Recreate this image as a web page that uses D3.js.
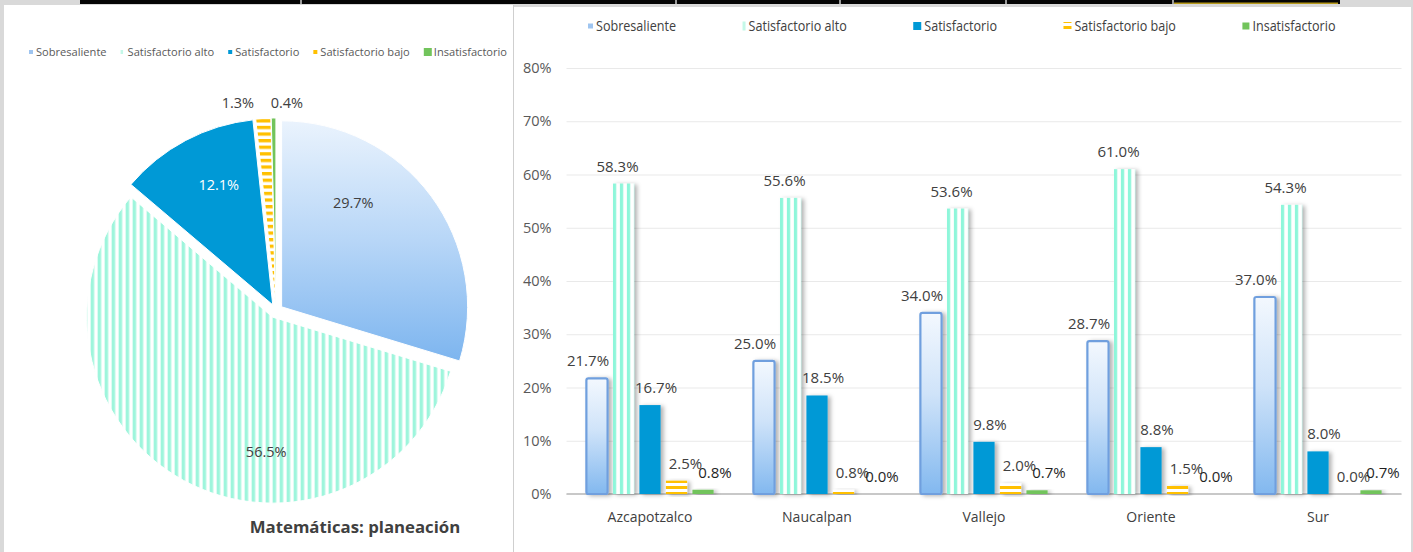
<!DOCTYPE html>
<meta charset="utf-8">
<title>Matemáticas: planeación</title>
<style>
body { margin: 0; background: #d9d9d9; }
svg { display: block; }
text { font-family: "Open Sans", sans-serif; }
</style>
<svg width="1413" height="552"></svg>
<script src="https://cdn.jsdelivr.net/npm/d3@7/dist/d3.min.js"></script>
<script>

// data
var series = ["Sobresaliente", "Satisfactorio alto", "Satisfactorio", "Satisfactorio bajo", "Insatisfactorio"];
var pieValues = [29.7, 56.5, 12.1, 1.3, 0.4];
var planteles = ["Azcapotzalco", "Naucalpan", "Vallejo", "Oriente", "Sur"];
var sobresaliente = [21.7, 25.0, 34.0, 28.7, 37.0];
var satAlto = [58.3, 55.6, 53.6, 61.0, 54.3];
var satisfactorio = [16.7, 18.5, 9.8, 8.8, 8.0];
var satBajo = [2.5, 0.8, 2.0, 1.5, 0.0];
var insatisfactorio = [0.8, 0.0, 0.7, 0.0, 0.7];
var yTicks = [0, 10, 20, 30, 40, 50, 60, 70, 80];
var pieTitle = "Matemáticas: planeación";

var seriesValues = [sobresaliente, satAlto, satisfactorio, satBajo, insatisfactorio];
var pct = function(v) { return d3.format(".1f")(v) + "%"; };

var svg = d3.select("svg");
var defs = svg.append("defs");

// ---------- fills ----------
function stripes(id, w, h, band, color, vertical) {
  var p = defs.append("pattern").attr("id", id)
      .attr("patternUnits", "userSpaceOnUse")
      .attr("width", w).attr("height", h);
  p.append("rect").attr("width", w).attr("height", h).attr("fill", "#fff");
  if (vertical) p.append("rect").attr("width", band).attr("height", h).attr("fill", color);
  else p.append("rect").attr("width", w).attr("height", band).attr("fill", color);
}
stripes("pieAlto", 7, 7, 3.5, "#9ef5dc", true);
stripes("pieBajo", 7, 6.6, 3.3, "#ffc000", false);
stripes("barAlto", 7, 7, 3.3, "#8ef6da", true);
stripes("barBajo", 7, 6, 3, "#ffc000", false);

function gradient(id, stops) {
  var g = defs.append("linearGradient").attr("id", id)
      .attr("x1", 0).attr("y1", 0).attr("x2", 0).attr("y2", 1);
  stops.forEach(function(s) {
    g.append("stop").attr("offset", s[0]).attr("stop-color", s[1]);
  });
}
gradient("pieSob", [[0, "#eaf3fd"], [0.5, "#b7d6f7"], [1, "#7db5ef"]]);
gradient("barSob", [[0, "#f3f8fe"], [0.45, "#cfe3f9"], [1, "#82b8ef"]]);

var shadow = defs.append("filter").attr("id", "shadow")
    .attr("x", "-40%").attr("y", "-20%").attr("width", "200%").attr("height", "140%");
shadow.append("feDropShadow").attr("dx", 3).attr("dy", 1)
    .attr("stdDeviation", 2).attr("flood-color", "#000").attr("flood-opacity", 0.3);

var pieFill = ["url(#pieSob)", "url(#pieAlto)", "#0099d6", "url(#pieBajo)", "#72c45c"];
var barFill = ["url(#barSob)", "url(#barAlto)", "#0099d6", "url(#barBajo)", "#72c45c"];

// ---------- page frame ----------
svg.append("rect").attr("x", 80).attr("y", 0).attr("width", 1260).attr("height", 4).attr("fill", "#050505");
svg.append("rect").attr("x", 1174).attr("y", 2.5).attr("width", 164).attr("height", 1.5).attr("fill", "#b79a1c");
[300, 675, 839, 1005, 1172].forEach(function(d) {
  svg.append("rect").attr("x", d).attr("y", 0).attr("width", 2).attr("height", 4).attr("fill", "#9a9a9a");
});
svg.append("rect").attr("x", 4).attr("y", 5).attr("width", 509).attr("height", 547).attr("fill", "#fff");
svg.append("rect").attr("x", 514).attr("y", 7).attr("width", 897).attr("height", 545).attr("fill", "#fff");
svg.append("line").attr("x1", 513.5).attr("x2", 513.5).attr("y1", 5).attr("y2", 552)
    .attr("stroke", "#cfcfcf").attr("stroke-width", 1);

// ---------- pie (left) ----------
var cx = 276, cy = 311, radius = 186, explode = 7;
var pie = d3.pie().sort(null)(pieValues);
var arc = d3.arc().innerRadius(0).outerRadius(radius);

var pieG = svg.append("g").attr("transform", "translate(" + cx + "," + cy + ")");
pieG.selectAll("path")
  .data(pie)
  .enter().append("path")
    .attr("d", arc)
    .attr("fill", function(d, i) { return pieFill[i]; })
    .attr("stroke", "#fff")
    .attr("stroke-width", 1)
    .attr("transform", function(d) {
      var m = (d.startAngle + d.endAngle) / 2;
      return "translate(" + (Math.sin(m) * explode) + "," + (-Math.cos(m) * explode) + ")";
    });

// label spots: [angle in degrees from 12 o'clock, distance from centre]
var pieLabelAt = [[35.5, 133], [184, 141], [335.5, 138], [349.6, 211], [3, 208]];
pieG.selectAll("text.lab")
  .data(pie)
  .enter().append("text")
    .attr("class", "lab")
    .attr("x", function(d, i) { return Math.sin(pieLabelAt[i][0] * Math.PI / 180) * pieLabelAt[i][1]; })
    .attr("y", function(d, i) { return -Math.cos(pieLabelAt[i][0] * Math.PI / 180) * pieLabelAt[i][1] + 5; })
    .attr("text-anchor", "middle")
    .attr("font-size", 14.5)
    .attr("fill", function(d, i) { return i == 2 ? "#fff" : "#404040"; })
    .text(function(d) { return pct(d.value); });

// pie legend
var pieLegend = svg.append("g").attr("transform", "translate(29,52)");
var lx = 0;
series.forEach(function(s, i) {
  var big = i == 4;
  var size = big ? 8 : 4;
  var mark = pieLegend.append("rect")
      .attr("x", lx).attr("y", -size / 2)
      .attr("width", big ? 8 : 4).attr("height", size)
      .attr("fill", ["#9fc5f0", "#c4f8e8", "#0099d6", "#ffc000", "#72c45c"][i]);
  if (i == 1) mark.attr("width", 2.5);
  var t = pieLegend.append("text")
      .attr("x", lx + (big ? 10 : 7)).attr("y", 4)
      .attr("font-size", 11.1)
      .attr("fill", "#595959")
      .text(s);
  lx = lx + (big ? 10 : 7) + t.node().getComputedTextLength() + 14;
});

svg.append("text")
    .attr("x", 355).attr("y", 533)
    .attr("text-anchor", "middle")
    .attr("font-size", 16.8)
    .attr("font-weight", "bold")
    .attr("fill", "#404040")
    .text(pieTitle);

// ---------- grouped bars (right) ----------
var left = 566.5, right = 1401.5, base = 494;
var x0 = d3.scaleBand().domain(planteles).range([left, right]);
var x1 = d3.scaleBand().domain(series).range([0, x0.bandwidth()])
    .paddingInner(0.2).paddingOuter(0.75);
var y = d3.scaleLinear().domain([0, 80]).range([base, 68]);

var yAxis = svg.append("g")
    .attr("transform", "translate(" + left + ",0)")
    .call(d3.axisLeft(y).tickValues(yTicks)
        .tickFormat(function(d) { return d + "%"; })
        .tickSize(-(right - left)).tickPadding(15));
yAxis.select(".domain").remove();
yAxis.selectAll("line").attr("stroke", "#e9e9e9");
yAxis.selectAll("text")
    .attr("font-family", "'Open Sans', sans-serif")
    .attr("font-size", 14.5)
    .attr("fill", "#595959");

svg.append("line")
    .attr("x1", left).attr("x2", right)
    .attr("y1", y(0)).attr("y2", y(0))
    .attr("stroke", "#c8c8c8").attr("stroke-width", 2);

var rows = planteles.map(function(p, i) {
  return series.map(function(s, j) {
    return { plantel: p, serie: s, j: j, value: seriesValues[j][i] };
  });
});

var labelShift = [-9, -6, 6, 9, 12];

var groups = svg.append("g").selectAll("g")
  .data(rows)
  .enter().append("g");

var bars = groups.selectAll("g")
  .data(function(d) { return d; })
  .enter().append("g")
    .attr("transform", function(d) { return "translate(" + (x0(d.plantel) + x1(d.serie)) + ",0)"; });

bars.filter(function(d) { return d.value > 0; })
  .append("rect")
    .attr("x", 0)
    .attr("y", function(d) { return y(d.value); })
    .attr("width", x1.bandwidth())
    .attr("height", function(d) { return base - y(d.value); })
    .attr("fill", function(d) { return barFill[d.j]; })
    .attr("stroke", function(d) { return d.j == 0 ? "#6f9fde" : "none"; })
    .attr("stroke-width", 2.2)
    .attr("rx", function(d) { return d.j == 0 ? 2 : 0; })
    .attr("filter", "url(#shadow)");

bars.append("text")
    .attr("x", function(d) { return x1.bandwidth() / 2 + labelShift[d.j]; })
    .attr("y", function(d) { return y(d.value) - 12; })
    .attr("text-anchor", "middle")
    .attr("font-size", 15)
    .attr("fill", function(d) { return d.j == 4 ? "#1f1f1f" : "#404040"; })
    .text(function(d) { return pct(d.value); });

svg.append("g").selectAll("text")
  .data(planteles)
  .enter().append("text")
    .attr("x", function(d) { return x0(d) + x0.bandwidth() / 2; })
    .attr("y", 522)
    .attr("text-anchor", "middle")
    .attr("font-size", 14)
    .attr("fill", "#404040")
    .text(function(d) { return d; });

// bar legend (text squeezed a little, the original font is a narrow one)
var barLegend = svg.append("g").attr("transform", "translate(588,26)");
var bx = 0, squeeze = 0.9;
series.forEach(function(s, i) {
  var w = [5, 3, 8, 8, 7][i], h = [5, 9, 8, 8, 7][i];
  barLegend.append("rect")
      .attr("x", bx).attr("y", -h / 2)
      .attr("width", w).attr("height", h)
      .attr("fill", ["#9fc5f0", "#c4f8e8", "#0099d6", "url(#barBajo)", "#72c45c"][i]);
  var t = barLegend.append("text")
      .attr("transform", "translate(" + (bx + w + 3) + ",5) scale(" + squeeze + ",1)")
      .attr("font-family", "'Liberation Sans', Arial, sans-serif")
      .attr("font-size", 14)
      .attr("fill", "#404040")
      .text(s);
  bx = bx + w + 3 + t.node().getComputedTextLength() * squeeze + 66.5;
});

</script>
